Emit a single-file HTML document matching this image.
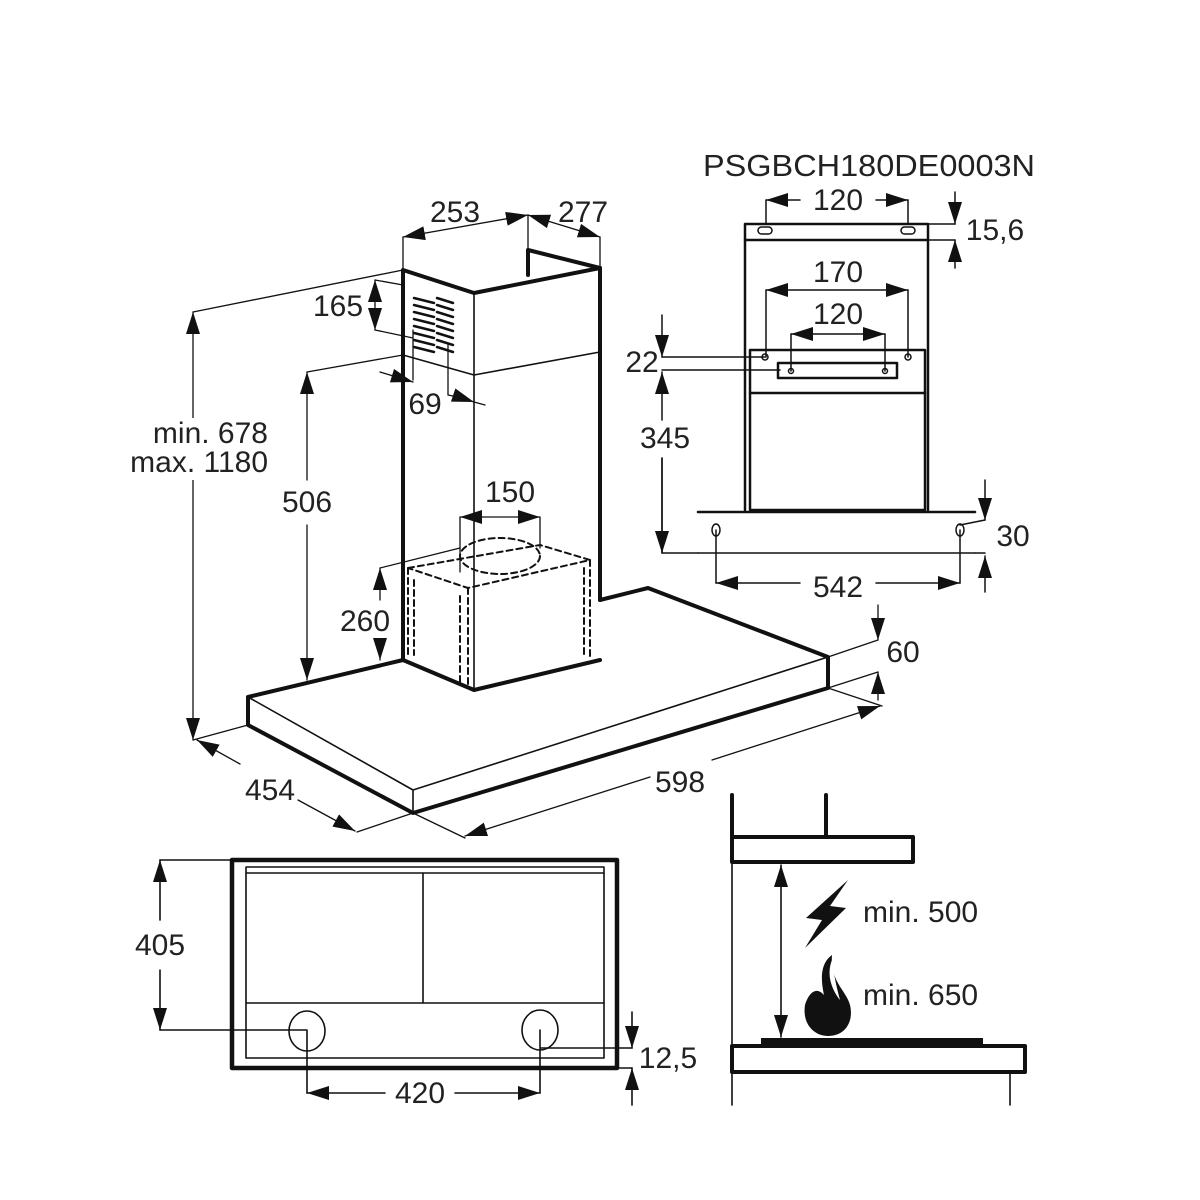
<!DOCTYPE html>
<html><head><meta charset="utf-8"><style>
html,body{margin:0;padding:0;background:#fff}
svg{display:block}
text{font-family:"Liberation Sans",sans-serif;font-size:30px;fill:#222}
</style></head><body>
<svg width="1200" height="1200" viewBox="0 0 1200 1200" xmlns="http://www.w3.org/2000/svg">
<defs>
<marker id="b" viewBox="0 0 10 10" refX="10" refY="5" markerWidth="22" markerHeight="14" markerUnits="userSpaceOnUse" orient="auto-start-reverse" preserveAspectRatio="none"><path d="M0,0 L10,5 L0,10 z" fill="#111"/></marker>
</defs>
<g stroke="#111" fill="none" stroke-linecap="round" stroke-linejoin="round">
<g stroke-width="4">
<path d="M403,660 L403,270 L474,293 L600,268 L600,600"/>
<path d="M528,275 L528,250 L600,268"/>
<path d="M474,690 L403,660 M474,690 L600,660"/>
</g>
<g stroke-width="1.6">
<path d="M474,293 L474,690"/>
<path d="M403,355 L474,375 L600,352"/>
</g>
<g stroke-width="2.5">
<path d="M414,298l20,5 M414,305l20,5 M414,312l20,5 M414,319l20,5 M414,326l20,5 M414,333l20,5 M414,340l20,5 M414,347l20,5"/>
<path d="M437,298l16,5 M437,305l16,5 M437,312l16,5 M437,319l16,5 M437,326l16,5 M437,333l16,5 M437,340l16,5 M437,347l16,5"/>
</g>
<g stroke-width="2" stroke-dasharray="6,4">
<path d="M408,568 L540,545 L590,560 L468,588 Z"/>
<path d="M408,568 L408,658 M468,588 L468,688 M590,560 L590,658"/>
<path d="M414,580 L414,655 M460,596 L460,684 M584,568 L584,655"/>
<ellipse cx="500" cy="556" rx="40" ry="18"/>
</g>
<g stroke-width="4">
<path d="M403,660 L248,697 L248,725 L413,813 L828,688 L828,657 L648,588 L600,600"/>
</g>
<g stroke-width="1.6">
<path d="M248,697 L413,790 L828,657 M413,790 L413,813"/>
</g>
<g stroke-width="1.3">
<path d="M193,312 L403,270 M193,740 L248,725 M357,832 L413,813 M413,813 L465,838 M828,688 L882,706"/>
<path d="M193,312 L193,740" marker-start="url(#b)" marker-end="url(#b)"/>
<path d="M240,764 L197,740" marker-end="url(#b)"/>
<path d="M298,800 L355,831" marker-end="url(#b)"/>
<path d="M650,777 L465,836" marker-end="url(#b)"/>
<path d="M712,760 L880,706" marker-end="url(#b)"/>
<path d="M828,657 L878,640 M828,688 L878,672"/>
<path d="M878,605 L878,640" marker-end="url(#b)"/>
<path d="M878,700 L878,672" marker-end="url(#b)"/>
<path d="M307,372 L403,355"/>
<path d="M307,480 L307,372" marker-end="url(#b)"/>
<path d="M307,525 L307,680" marker-end="url(#b)"/>
<path d="M380,568 L460,548"/>
<path d="M380,600 L380,568" marker-end="url(#b)"/>
<path d="M380,640 L380,660" marker-end="url(#b)"/>
<path d="M375,280 L403,285 M375,330 L413,338 M413,330 L413,380 M448,345 L448,395 L462,398"/>
<path d="M375,305 L375,280" marker-end="url(#b)"/>
<path d="M375,305 L375,330" marker-end="url(#b)"/>
<path d="M380,372 L413,382" marker-end="url(#b)"/>
<path d="M485,405 L474,402" />
<path d="M462,398 L474,402" marker-end="url(#b)"/>
<path d="M403,237 L403,270 M528,215 L528,250 M600,237 L600,268"/>
<path d="M403,237 L528,215" marker-start="url(#b)" marker-end="url(#b)"/>
<path d="M528,215 L600,237" marker-start="url(#b)" marker-end="url(#b)"/>
<path d="M460,517 L460,572 M540,517 L540,548"/>
<path d="M460,517 L540,517" marker-start="url(#b)" marker-end="url(#b)"/>
</g>
<g stroke-width="2.5">
<path d="M745,510 L745,224 L928,224 L928,510"/>
<path d="M745,240 L928,240"/>
<rect x="750" y="350" width="175" height="160"/>
<path d="M750,393 L925,393"/>
<path d="M778,363 L897,363 L897,378 L778,378 Z"/>
<path d="M698,512 L975,512"/>
</g>
<g stroke-width="1.5">
<rect x="758" y="227" width="14" height="7" rx="3.5"/>
<rect x="901" y="227" width="14" height="7" rx="3.5"/>
<circle cx="765" cy="357" r="3"/><circle cx="908" cy="357" r="3"/>
<circle cx="791" cy="371" r="2.5"/><circle cx="885" cy="371" r="2.5"/>
<path d="M698,553 L975,553"/>
<ellipse cx="716" cy="530" rx="4" ry="6"/><ellipse cx="960" cy="530" rx="4" ry="6"/>
<path d="M766,200 L766,224 M908,200 L908,224"/>
<path d="M800,200 L766,200" marker-end="url(#b)"/>
<path d="M876,200 L908,200" marker-end="url(#b)"/>
<path d="M766,290 L766,357 M908,290 L908,357 M791,334 L791,371 M885,334 L885,371"/>
<path d="M766,290 L908,290" marker-start="url(#b)" marker-end="url(#b)"/>
<path d="M791,334 L885,334" marker-start="url(#b)" marker-end="url(#b)"/>
<path d="M662,357 L765,357 M662,370 L780,370"/>
<path d="M662,315 L662,357" marker-end="url(#b)"/>
<path d="M662,458 L662,553 L698,553" />
<path d="M662,458 L662,553" marker-end="url(#b)"/>
<path d="M662,420 L662,372" marker-end="url(#b)"/>
<path d="M928,224 L955,224 M928,240 L955,240"/>
<path d="M955,192 L955,224" marker-end="url(#b)"/>
<path d="M955,268 L955,240" marker-end="url(#b)"/>
<path d="M960,525 L985,520 M975,553 L985,553"/>
<path d="M985,480 L985,520" marker-end="url(#b)"/>
<path d="M985,592 L985,556" marker-end="url(#b)"/>
<path d="M716,530 L716,583 M960,530 L960,583"/>
<path d="M800,583 L716,583" marker-end="url(#b)"/>
<path d="M876,583 L960,583" marker-end="url(#b)"/>
</g>
<rect x="232" y="860" width="385" height="208" stroke-width="4.5"/>
<g stroke-width="1.6">
<rect x="246" y="867" width="358" height="191"/>
<path d="M246,873 L604,873 M423,873 L423,1003 M246,1003 L604,1003"/>
<ellipse cx="307" cy="1031" rx="18" ry="20"/>
<ellipse cx="540" cy="1030" rx="18" ry="20"/>
<path d="M160,860 L232,860 M160,1030 L307,1030 M307,1030 L307,1093 M540,1030 L540,1093 M540,1048 L632,1048 M617,1068 L632,1068"/>
<path d="M160,920 L160,860" marker-end="url(#b)"/>
<path d="M160,970 L160,1030" marker-end="url(#b)"/>
<path d="M385,1093 L307,1093" marker-end="url(#b)"/>
<path d="M455,1093 L540,1093" marker-end="url(#b)"/>
<path d="M632,1012 L632,1048" marker-end="url(#b)"/>
<path d="M632,1105 L632,1068" marker-end="url(#b)"/>
</g>
<g stroke-width="4">
<path d="M732,795 L732,837 M826,795 L826,837"/>
<rect x="732" y="837" width="181" height="25"/>
<rect x="732" y="1046" width="293" height="26"/>
</g>
<rect x="761" y="1038" width="222" height="8" fill="#111" stroke="none"/>
<g stroke-width="1.6">
<path d="M732,862 L732,1105 M1010,1072 L1010,1105"/>
<path d="M781,865 L781,1037" marker-start="url(#b)" marker-end="url(#b)"/>
</g>
</g>
<rect x="140" y="418" width="130" height="62" fill="#fff"/>
<path d="M848,880 L806,918 L822,920 L805,948 L846,908 L830,906 Z" fill="#111"/>
<path d="M832,955 C818,965 822,985 824,995 C815,985 808,995 805,1005 C802,1025 815,1036 828,1036 C845,1036 854,1022 850,1005 C846,990 830,982 832,955 Z" fill="#111"/>
<path d="M832,960 C826,975 832,990 840,1000 C836,985 834,975 832,960 Z" fill="#fff"/>
<text x="455" y="222" text-anchor="middle">253</text>
<text x="583" y="222" text-anchor="middle">277</text>
<text x="338" y="316" text-anchor="middle">165</text>
<text x="425" y="414" text-anchor="middle">69</text>
<text x="268" y="443" text-anchor="end">min. 678</text>
<text x="268" y="472" text-anchor="end">max. 1180</text>
<text x="307" y="512" text-anchor="middle">506</text>
<text x="510" y="502" text-anchor="middle">150</text>
<text x="365" y="631" text-anchor="middle">260</text>
<text x="903" y="662" text-anchor="middle">60</text>
<text x="270" y="800" text-anchor="middle">454</text>
<text x="680" y="792" text-anchor="middle">598</text>
<text x="703" y="176" textLength="332" lengthAdjust="spacingAndGlyphs" style="font-size:31px">PSGBCH180DE0003N</text>
<text x="838" y="210" text-anchor="middle">120</text>
<text x="995" y="240" text-anchor="middle">15,6</text>
<text x="838" y="282" text-anchor="middle">170</text>
<text x="838" y="324" text-anchor="middle">120</text>
<text x="642" y="372" text-anchor="middle">22</text>
<text x="665" y="448" text-anchor="middle">345</text>
<text x="1013" y="546" text-anchor="middle">30</text>
<text x="838" y="597" text-anchor="middle">542</text>
<text x="160" y="955" text-anchor="middle">405</text>
<text x="420" y="1103" text-anchor="middle">420</text>
<text x="668" y="1068" text-anchor="middle">12,5</text>
<text x="863" y="922">min. 500</text>
<text x="863" y="1005">min. 650</text>
</svg>
</body></html>
